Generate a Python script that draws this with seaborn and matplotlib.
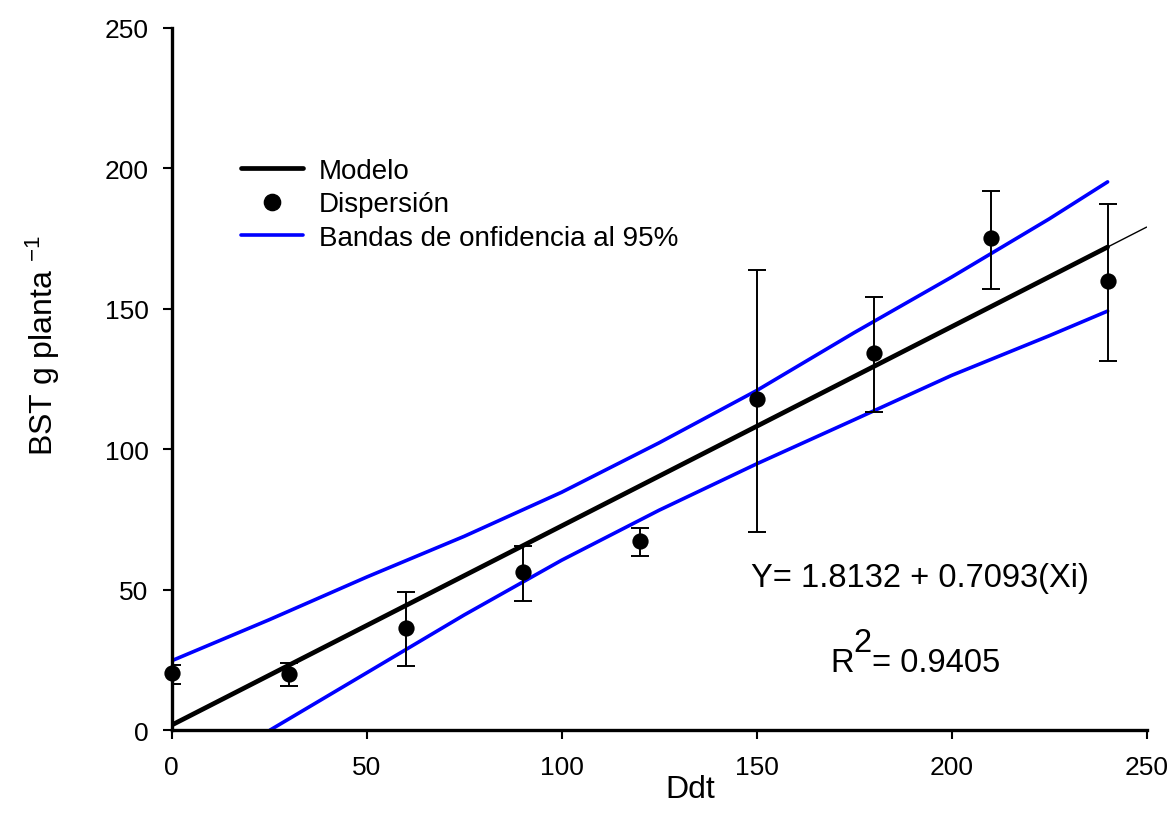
import numpy as np
import pandas as pd
import matplotlib
matplotlib.use('Agg')
import matplotlib.pyplot as plt
import seaborn as sns
from matplotlib.lines import Line2D

# Datos
ddt = [0, 30, 60, 90, 120, 150, 180, 210, 240]
bst = [20.3, 20.1, 36.3, 56.2, 67.5, 118.0, 134.4, 175.2, 159.9]
err_sup = [23.2, 23.9, 49.1, 65.5, 72.1, 163.7, 154.1, 191.8, 187.5]
err_inf = [16.6, 15.6, 22.9, 45.9, 62.0, 70.7, 113.4, 157.0, 131.5]

# Modelo: Y = 1.8132 + 0.7093 X
modelo_x = [0, 240]
modelo_y = [1.8, 172.0]
modelo_ext_x = [240, 250]
modelo_ext_y = [172.0, 179.1]

# Bandas de confianza al 95%
banda_sup_x = [0, 25, 50, 75, 100, 125, 150, 175, 200, 225, 240]
banda_sup_y = [24.7, 39.3, 54.5, 69.0, 84.7, 102.3, 120.9, 141.5, 161.3, 182.0, 195.2]
banda_inf_x = [25.2, 50, 75, 100, 125, 150, 175, 200, 225, 240]
banda_inf_y = [0.0, 20.4, 41.0, 60.5, 78.3, 94.8, 110.5, 126.3, 140.4, 149.2]

df = pd.DataFrame({'ddt': ddt, 'bst': bst})

sns.set_style('ticks')
plt.rcParams['font.family'] = ['Liberation Sans', 'DejaVu Sans']
plt.rcParams['mathtext.fontset'] = 'custom'
plt.rcParams['mathtext.rm'] = 'Liberation Sans'
plt.rcParams['mathtext.it'] = 'Liberation Sans:italic'
for k in ['text.color', 'axes.labelcolor', 'xtick.color', 'ytick.color', 'axes.edgecolor']:
    plt.rcParams[k] = 'black'

fig, ax = plt.subplots(figsize=(11.76, 8.28), dpi=100)
fig.subplots_adjust(left=0.146, right=0.975, top=0.965, bottom=0.117)

azul = '#0000ff'

# bandas
sns.lineplot(x=banda_sup_x, y=banda_sup_y, color=azul, lw=2.6, ax=ax, sort=False)
sns.lineplot(x=banda_inf_x, y=banda_inf_y, color=azul, lw=2.6, ax=ax, sort=False)

# modelo
sns.lineplot(x=modelo_ext_x, y=modelo_ext_y, color='black', lw=1.0, ax=ax)
sns.lineplot(x=modelo_x, y=modelo_y, color='black', lw=3.4, ax=ax)

# barras de error
yerr = [np.array(bst) - np.array(err_inf), np.array(err_sup) - np.array(bst)]
ax.errorbar(ddt, bst, yerr=yerr, fmt='none', ecolor='black', elinewidth=1.4,
            capsize=6.8, capthick=1.4, zorder=3)

# puntos
sns.scatterplot(data=df, x='ddt', y='bst', color='black', s=11.7 ** 2,
                edgecolor='black', linewidth=0, ax=ax, zorder=4, clip_on=False)

ax.set_xlim(0, 250)
ax.set_ylim(0, 250)
ax.set_xticks(range(0, 251, 50))
ax.set_yticks(range(0, 251, 50))

sns.despine(ax=ax)
for s in ['left', 'bottom']:
    ax.spines[s].set_linewidth(2.4)
ax.tick_params(axis='both', direction='out', length=6.7, width=1.5, labelsize=19)
ax.tick_params(axis='y', pad=10)
ax.tick_params(axis='x', pad=11)

ax.set_xlabel('Ddt', fontsize=23)
ax.set_ylabel(r'BST g planta $^{-1}$', fontsize=23)
ax.xaxis.set_label_coords(0.532, -0.062)
ax.yaxis.set_label_coords(-0.1128, 0.549)

# texto de la ecuación
ax.text(148.5, 51.4, 'Y= 1.8132 + 0.7093(Xi)', fontsize=23.5, ha='left', va='baseline')
t_r = ax.text(168.8, 21.1, 'R', fontsize=23.5, ha='left', va='baseline')
t_2 = ax.annotate('2', xy=(1, 0), xycoords=t_r, xytext=(0, 14.4), textcoords='offset points',
                  fontsize=23.5, ha='left', va='bottom')
ax.annotate('= 0.9405', xy=(1, 0), xycoords=(t_2, t_r), fontsize=23.5, ha='left', va='bottom')

handles = [
    Line2D([], [], color='black', lw=3.4),
    Line2D([], [], color='black', marker='o', ls='none', markersize=11.7),
    Line2D([], [], color=azul, lw=2.6),
]
labels = ['Modelo', 'Dispersión', 'Bandas de onfidencia al 95%']
ax.legend(handles, labels, loc='upper left', bbox_to_anchor=(0.0708, 0.815),
          frameon=False, fontsize=20, borderpad=0, borderaxespad=0,
          handlelength=2.23, handletextpad=0.58, labelspacing=0.27)

plt.savefig('out.png', dpi=100)
